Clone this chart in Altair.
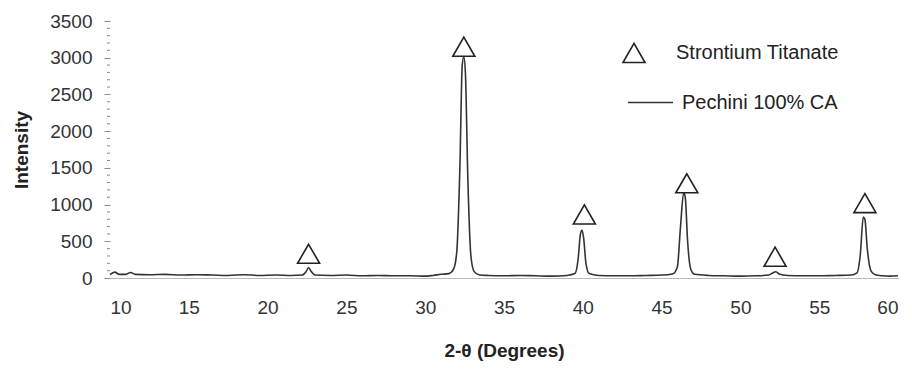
import altair as alt
import pandas as pd

# XRD pattern (2-theta in degrees, intensity)
two_theta = [10.0, 10.3, 10.6, 11.0, 11.3, 11.6, 12.5, 13.5, 14.5, 15.5, 16.5, 17.5,
             18.5, 19.5, 20.5, 21.5, 22.2, 22.45, 22.6, 22.75, 23.0, 24.0, 25.0, 26.0,
             27.0, 28.0, 29.0, 30.0, 30.5, 31.0, 31.5, 31.8, 32.0, 32.2, 32.35, 32.45,
             32.55, 32.7, 32.9, 33.1, 33.4, 34.0, 35.0, 36.0, 37.0, 38.0, 39.0, 39.5,
             39.7, 39.85, 39.95, 40.05, 40.2, 40.4, 41.0, 42.0, 43.0, 44.0, 45.0, 45.7,
             46.0, 46.2, 46.4, 46.5, 46.65, 46.85, 47.1, 48.0, 49.0, 50.0, 51.0, 51.8,
             52.1, 52.25, 52.5, 53.0, 54.0, 55.0, 56.0, 57.0, 57.4, 57.6, 57.8, 57.9,
             58.05, 58.3, 58.6, 59.0, 59.5, 60.0]
intensity = [45, 80, 50, 50, 75, 50, 45, 50, 40, 45, 40, 35,
             45, 35, 40, 35, 40, 90, 140, 95, 40, 35, 40, 30,
             35, 30, 30, 25, 35, 50, 60, 120, 350, 1500, 2900, 3010,
             2800, 1400, 300, 90, 45, 35, 30, 35, 30, 25, 35, 60,
             250, 600, 650, 550, 200, 60, 35, 30, 30, 35, 40, 55,
             150, 700, 1160, 1100, 500, 120, 50, 35, 30, 25, 30, 40,
             75, 85, 50, 35, 30, 30, 35, 40, 70, 300, 830, 800,
             400, 90, 40, 30, 25, 30]

# Strontium titanate reference markers
marker_theta = [22.6, 32.45, 40.1, 46.6, 52.2, 57.9]
marker_int = [330, 3150, 865, 1290, 290, 1020]

x_ticks = [10, 15, 20, 25, 30, 35, 40, 45, 50, 55, 60]
y_ticks = [0, 500, 1000, 1500, 2000, 2500, 3000, 3500]
y_minor_ticks = [v for v in range(100, 3500, 100) if v % 500 != 0]

line_name = "Pechini 100% CA"
marker_name = "Strontium Titanate"

FONT = "Liberation Sans"

line_df = pd.DataFrame({"theta": two_theta, "intensity": intensity, "series": line_name})
mark_df = pd.DataFrame({"theta": marker_theta, "intensity": marker_int, "series": marker_name})
minor_df = pd.DataFrame({"intensity": y_minor_ticks})

x_scale = alt.Scale(domain=[10, 60], nice=False, zero=False)
y_scale = alt.Scale(domain=[0, 3500], nice=False)

x_axis = alt.Axis(values=x_ticks, title="2-θ (Degrees)", ticks=False, grid=False,
                  domainColor="#b8b8b8", domainWidth=1, labelPadding=20, format="d",
                  labelFontSize=19, labelFont=FONT, labelColor="#333",
                  titleFontSize=19, titleFont=FONT, titleFontWeight="bold", titleColor="#222",
                  titlePadding=24)
y_axis = alt.Axis(values=y_ticks, title="Intensity", domain=False, grid=False,
                  labelOverlap=False, tickSize=6, format="d",
                  tickColor="#8a8a8a", tickWidth=1, labelPadding=12,
                  labelFontSize=19, labelFont=FONT, labelColor="#333",
                  titleFontSize=19, titleFont=FONT, titleFontWeight="bold", titleColor="#222",
                  titlePadding=18)

line = alt.Chart(line_df).mark_line(strokeWidth=1.6, interpolate="monotone").encode(
    x=alt.X("theta:Q", scale=x_scale, axis=x_axis),
    y=alt.Y("intensity:Q", scale=y_scale, axis=y_axis),
    color=alt.Color("series:N", scale=alt.Scale(range=["#333333"]),
                    legend=alt.Legend(title=None, orient="none", legendX=517, legendY=58,
                                      symbolSize=2025, symbolStrokeWidth=1.5,
                                      labelOffset=8, labelFontSize=20, labelFont=FONT,
                                      labelColor="#222", labelLimit=400, padding=0)),
)

minor = alt.Chart(minor_df).mark_rule(color="#8a8a8a", strokeWidth=1, clip=False).encode(
    y=alt.Y("intensity:Q", scale=y_scale, axis=y_axis),
    x=alt.value(-3),
    x2=alt.value(0),
)

points = alt.Chart(mark_df).mark_point(shape="triangle-up", filled=False, size=484,
                                       color="#222", strokeWidth=1.6, opacity=1).encode(
    x=alt.X("theta:Q", scale=x_scale, axis=x_axis),
    y=alt.Y("intensity:Q", scale=y_scale, axis=y_axis),
    shape=alt.Shape("series:N", scale=alt.Scale(range=["triangle-up"]),
                    legend=alt.Legend(title=None, orient="none", legendX=512, legendY=20,
                                      symbolSize=484, symbolStrokeWidth=1.6,
                                      symbolStrokeColor="#222", symbolFillColor="white",
                                      labelOffset=30, labelFontSize=20, labelFont=FONT,
                                      labelColor="#222", labelLimit=400, padding=0)),
)

chart = alt.layer(line, minor, points).properties(
    width=788, height=257,
    autosize=alt.AutoSizeParams(type="none"),
    padding={"left": 102, "top": 13, "right": 6, "bottom": 84},
    background="white",
).configure_view(stroke=None)

chart.save("out.html", embed_options={"renderer": "svg", "actions": False})
